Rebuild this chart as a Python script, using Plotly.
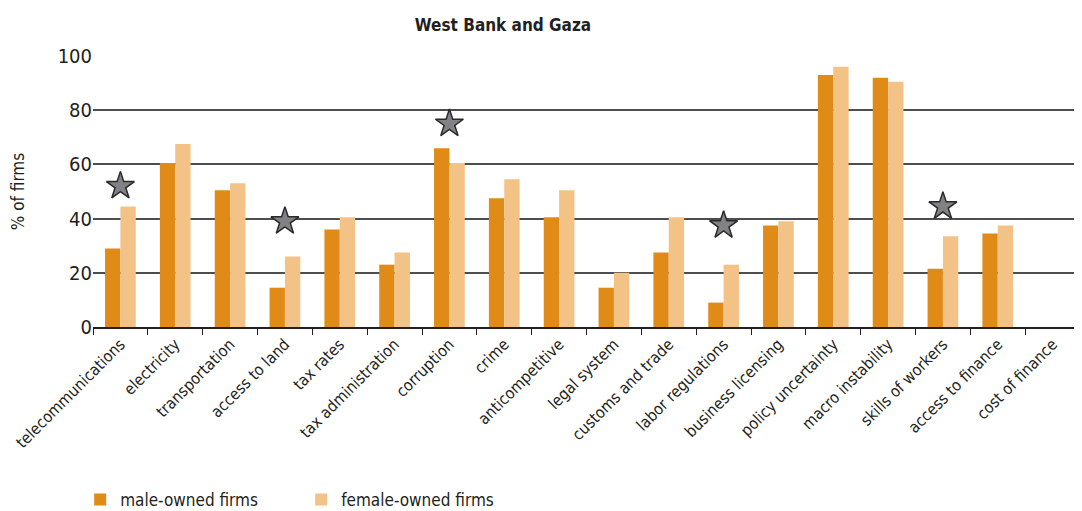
import plotly.graph_objects as go

categories = ["telecommunications", "electricity", "transportation", "access to land",
              "tax rates", "tax administration", "corruption", "crime", "anticompetitive",
              "legal system", "customs and trade", "labor regulations", "business licensing",
              "policy uncertainty", "macro instability", "skills of workers",
              "access to finance", "cost of finance"]
male = [29, 60.5, 50.5, 14.5, 36, 23, 66, 47.5, 40.5, 14.5, 27.5, 9, 37.5, 93, 92, 21.5, 34.5, 0]
female = [44.5, 67.5, 53, 26, 40.5, 27.5, 60.5, 54.5, 50.5, 20, 40.5, 23, 39, 96, 90.5, 33.5, 37.5, 0]
star_cats = ["telecommunications", "access to land", "corruption", "labor regulations", "skills of workers"]
star_vals = [52, 39, 75, 37.5, 44.5]
y_ticks = [0, 20, 40, 60, 80, 100]

FONT = "Liberation Sans Narrow, DejaVu Sans Condensed, Arial Narrow, sans-serif"
W, H = 1074, 503

fig = go.Figure()
fig.add_trace(go.Bar(x=categories, y=male, name="male-owned firms",
                     marker=dict(color="#E08A17", line=dict(width=0))))
fig.add_trace(go.Bar(x=categories, y=female, name="female-owned firms",
                     marker=dict(color="#F2C287", line=dict(width=0))))
fig.add_trace(go.Scatter(x=star_cats, y=star_vals, mode="markers", showlegend=False,
                         marker=dict(symbol="star", size=21, color="#808285",
                                     line=dict(color="#2a2a2a", width=1.5))))

fig.update_layout(
    width=W, height=H,
    margin=dict(l=85, r=2, t=48, b=184, autoexpand=False),
    paper_bgcolor="white", plot_bgcolor="white",
    barmode="group", bargap=0.44, bargroupgap=0,
    font=dict(family=FONT, size=17, color="#231f20"),
    title=dict(text="<b>West Bank and Gaza</b>", x=495/W, xanchor="center",
               y=1 - 17/H, yanchor="middle", font=dict(size=17, family=FONT)),
    legend=dict(orientation="h", x=-0.013, xanchor="left", y=-0.638, yanchor="middle",
                font=dict(size=17), itemwidth=30, traceorder="normal",
                entrywidth=176, entrywidthmode="pixels"),
    showlegend=True,
)
fig.update_xaxes(type="category", range=[-0.5, len(categories) - 0.5], tickangle=-45,
                 showline=True, linecolor="#231f20",
                 linewidth=1.5, ticks="outside", tickson="boundaries", ticklen=6,
                 tickcolor="#231f20", showgrid=False, tickfont=dict(size=16),
                 automargin=False)
fig.update_yaxes(range=[0, 100], tickvals=y_ticks, showgrid=True, gridcolor="#4d4d4d",
                 gridwidth=1.5, zeroline=False, showline=False, ticks="",
                 title=dict(text="% of firms", standoff=28, font=dict(size=17)),
                 tickfont=dict(size=20), automargin=False)

fig.write_html("out.html")
